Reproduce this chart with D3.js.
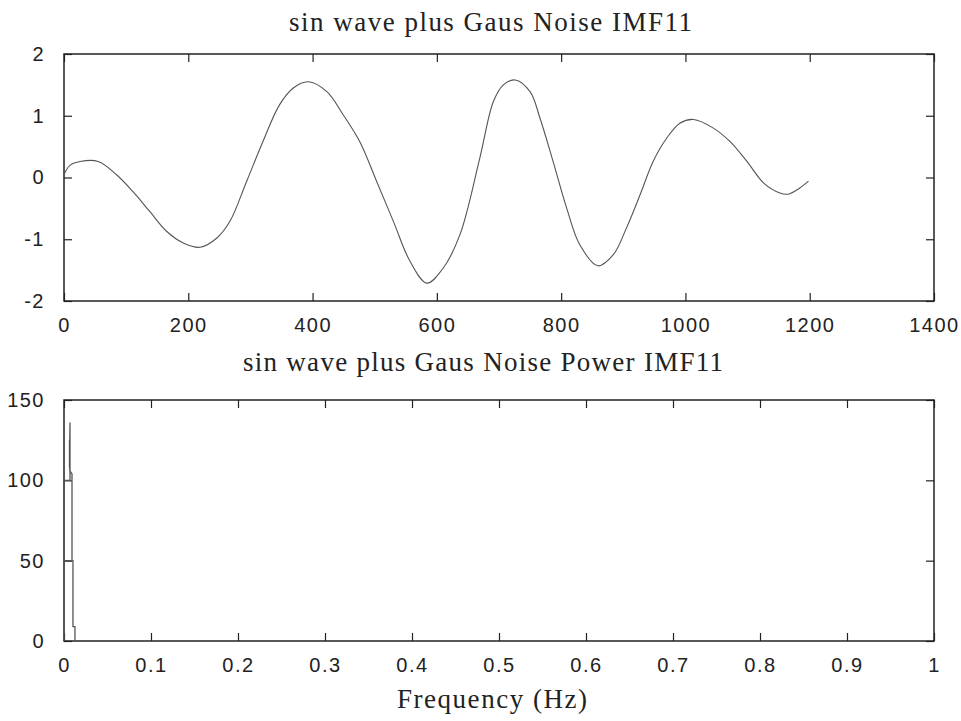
<!DOCTYPE html>
<html>
<head>
<meta charset="utf-8">
<script src="https://cdnjs.cloudflare.com/ajax/libs/d3/7.8.5/d3.min.js"></script>
<style>
body { margin: 0; background: #fff; }
svg { display: block; }
.tick text { font-family: "Liberation Sans", Arial, sans-serif; font-size: 20px; letter-spacing: 1.5px; fill: #222; }
.tick line { stroke: #222; stroke-width: 1.2; }
.ttl { font-family: "Liberation Serif", "Times New Roman", serif; font-size: 27px; fill: #222; }
</style>
</head>
<body>
<div id="chart"></div>
<script>
// IMF11 of the signal
const sigX = [0, 10, 26, 55, 85, 111, 138, 165, 192, 219, 246, 267, 294, 320, 347, 369, 393, 423, 449, 476, 503, 530, 557, 584, 610, 637, 669, 691, 707, 726, 750, 766, 787, 809, 830, 859, 884, 905, 927, 948, 970, 991, 1013, 1045, 1072, 1099, 1126, 1152, 1165, 1184, 1198];
const sigY = [0.05, 0.2, 0.26, 0.26, 0.04, -0.23, -0.55, -0.87, -1.06, -1.13, -0.98, -0.71, -0.06, 0.58, 1.18, 1.45, 1.55, 1.39, 1.02, 0.58, -0.06, -0.71, -1.36, -1.71, -1.47, -0.93, 0.31, 1.23, 1.5, 1.58, 1.39, 0.96, 0.26, -0.5, -1.09, -1.43, -1.25, -0.82, -0.28, 0.26, 0.64, 0.88, 0.94, 0.8, 0.58, 0.26, -0.09, -0.25, -0.27, -0.17, -0.06];

// power spectrum trace near 0 Hz, in drawing order
const freq  = [0, 0, 0, 0.0069, 0.0069, 0.0063, 0.0063, 0.0066, 0.0092, 0.0092, 0, 0.0103, 0.0103, 0.0126, 0.0126];
const power = [0, 50, 100, 100, 136, 108, 125, 106, 104, 50, 50, 50, 9, 9, 0];

const xTicksTop = [0, 200, 400, 600, 800, 1000, 1200, 1400];
const yTicksTop = [-2, -1, 0, 1, 2];
const xTicksBot = [0, 0.1, 0.2, 0.3, 0.4, 0.5, 0.6, 0.7, 0.8, 0.9, 1];
const yTicksBot = [0, 50, 100, 150];

const W = 961, H = 721;
const svg = d3.select("#chart").append("svg").attr("width", W).attr("height", H);
svg.append("rect").attr("width", W).attr("height", H).attr("fill", "#fff");

const L = 64, R = 934;
// plain hyphen minus like the original figure
let plain = d => String(d);

function panel(top, bottom, xDom, yDom, xt, yt) {
  let x = d3.scaleLinear().domain(xDom).range([L, R]);
  let y = d3.scaleLinear().domain(yDom).range([bottom, top]);
  let g = svg.append("g");
  // box-style axes, ticks pointing inward
  g.append("g").attr("transform", "translate(0," + bottom + ")")
    .call(d3.axisBottom(x).tickValues(xt).tickSizeInner(-8).tickSizeOuter(0).tickPadding(17).tickFormat(plain));
  g.append("g").attr("transform", "translate(0," + top + ")")
    .call(d3.axisTop(x).tickValues(xt).tickSizeInner(-8).tickSizeOuter(0).tickFormat(""));
  g.append("g").attr("transform", "translate(" + L + ",0)")
    .call(d3.axisLeft(y).tickValues(yt).tickSizeInner(-8).tickSizeOuter(0).tickPadding(19).tickFormat(plain));
  g.append("g").attr("transform", "translate(" + R + ",0)")
    .call(d3.axisRight(y).tickValues(yt).tickSizeInner(-8).tickSizeOuter(0).tickFormat(""));
  g.selectAll(".domain").remove();
  g.append("rect").attr("x", L).attr("y", top).attr("width", R - L).attr("height", bottom - top)
    .attr("fill", "none").attr("stroke", "#222").attr("stroke-width", 1.5);
  return {x: x, y: y, g: g};
}

// top panel
let p1 = panel(54, 301, [0, 1400], [-2, 2], xTicksTop, yTicksTop);
let sig = sigX.map((d, i) => [d, sigY[i]]);
p1.g.append("path").datum(sig)
  .attr("fill", "none").attr("stroke", "#555").attr("stroke-width", 1.1)
  .attr("d", d3.line().x(d => p1.x(d[0])).y(d => p1.y(d[1])).curve(d3.curveCatmullRom));

// bottom panel
let p2 = panel(400, 641, [0, 1], [0, 150], xTicksBot, yTicksBot);
let spec = freq.map((d, i) => [d, power[i]]);
p2.g.append("path").datum(spec)
  .attr("fill", "none").attr("stroke", "#555").attr("stroke-width", 1.3)
  .attr("d", d3.line().x(d => p2.x(d[0])).y(d => p2.y(d[1])));

// titles
svg.append("text").attr("class", "ttl").attr("x", 289).attr("y", 31)
  .attr("textLength", 403).attr("lengthAdjust", "spacing").text("sin wave plus Gaus Noise IMF11");
svg.append("text").attr("class", "ttl").attr("x", 243).attr("y", 371)
  .attr("textLength", 480).attr("lengthAdjust", "spacing").text("sin wave plus Gaus Noise Power IMF11");
svg.append("text").attr("class", "ttl").attr("x", 397).attr("y", 708)
  .attr("textLength", 190).attr("lengthAdjust", "spacing").text("Frequency (Hz)");
</script>
</body>
</html>
